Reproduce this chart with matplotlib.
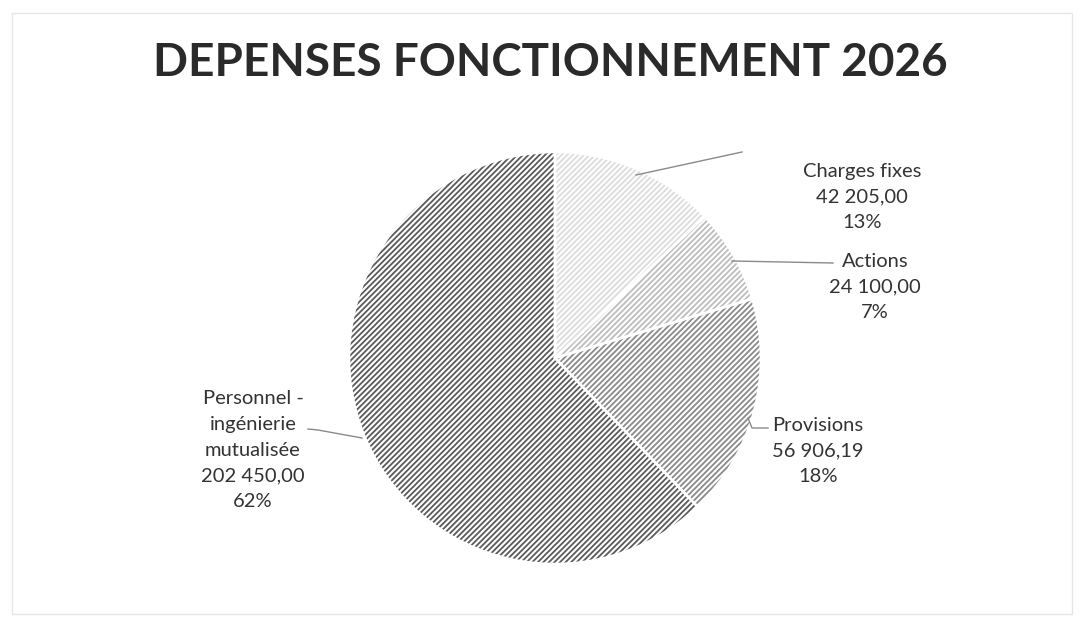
import matplotlib.pyplot as plt
from matplotlib.patches import Rectangle

plt.rcParams['font.family'] = ['Lato', 'DejaVu Sans']
plt.rcParams['hatch.linewidth'] = 1.3

# data
labels = ['Charges fixes', 'Actions', 'Provisions', 'Personnel -\ningénierie\nmutualisée']
values = [42205.00, 24100.00, 56906.19, 202450.00]
shown = ['42 205,00', '24 100,00', '56 906,19', '202 450,00']
pcts = ['13%', '7%', '18%', '62%']
hatch_colors = ['#dcdcdc', '#bdbdbd', '#8a8a8a', '#5a5a5a']

W, H = 1082, 626
fig = plt.figure(figsize=(W / 100, H / 100), dpi=100)
ax = fig.add_axes([0, 0, 1, 1])

center = (555, H - 358)
R = 206

wedges, _ = ax.pie(values, startangle=90, counterclock=False, center=center, radius=R,
                   colors=['white'] * 4)
for w, c in zip(wedges, hatch_colors):
    w.set_hatch('//////')
    w.set_edgecolor(c)
    w.set_linewidth(0)

# white separators between slices
ax.pie(values, startangle=90, counterclock=False, center=center, radius=R,
       wedgeprops=dict(fill=False, edgecolor='white', linewidth=1.8))

ax.set_xlim(0, W)
ax.set_ylim(0, H)
ax.set_aspect('auto')
ax.axis('off')

# chart frame
ax.add_patch(Rectangle((12, 12), W - 22, H - 25, fill=False, edgecolor='#e6e6e6', linewidth=1))

ax.text(550, H - 63, 'DEPENSES FONCTIONNEMENT 2026', ha='center', va='center',
        fontsize=33, fontweight='bold', color='#2a2a2a')

# labels and leaders
label_pos = [(862, 197), (875, 287), (818, 451), (253, 450)]
leaders = [
    [(636, 175), (742, 152)],
    [(732, 261), (833, 263)],
    [(748, 418), (752, 428), (768, 428)],
    [(308, 429), (318, 430), (362, 438)],
]
for lab, val, p, (x, y), pts in zip(labels, shown, pcts, label_pos, leaders):
    ax.text(x, H - y, f'{lab}\n{val}\n{p}', ha='center', va='center',
            fontsize=14.5, color='#333333', linespacing=1.62)
    xs = [q[0] for q in pts]
    ys = [H - q[1] for q in pts]
    ax.plot(xs, ys, color='#8a8a8a', linewidth=1)

fig.savefig('out.png', dpi=100)
